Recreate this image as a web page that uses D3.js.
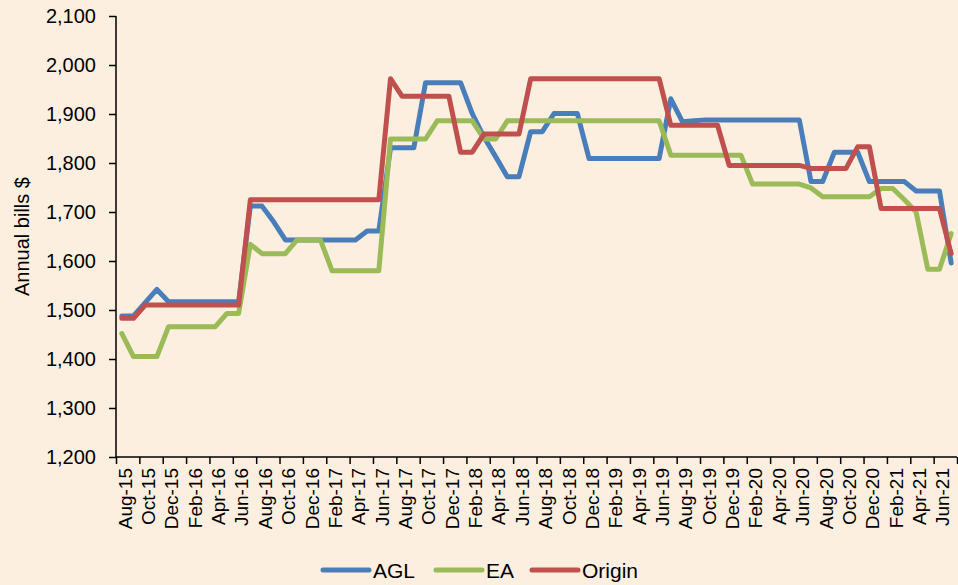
<!DOCTYPE html>
<html>
<head>
<meta charset="utf-8">
<script src="https://d3js.org/d3.v7.min.js"></script>
<style>
  html, body { margin: 0; padding: 0; background: #fcefdf; }
  svg { display: block; font-family: "Liberation Sans", Arial, sans-serif; }
</style>
</head>
<body>
<div id="chart"></div>
<script>
// monthly categories, Aug-15 .. Jul-21
const months = [
  "Aug-15","Sep-15","Oct-15","Nov-15","Dec-15","Jan-16","Feb-16","Mar-16","Apr-16","May-16","Jun-16","Jul-16",
  "Aug-16","Sep-16","Oct-16","Nov-16","Dec-16","Jan-17","Feb-17","Mar-17","Apr-17","May-17","Jun-17","Jul-17",
  "Aug-17","Sep-17","Oct-17","Nov-17","Dec-17","Jan-18","Feb-18","Mar-18","Apr-18","May-18","Jun-18","Jul-18",
  "Aug-18","Sep-18","Oct-18","Nov-18","Dec-18","Jan-19","Feb-19","Mar-19","Apr-19","May-19","Jun-19","Jul-19",
  "Aug-19","Sep-19","Oct-19","Nov-19","Dec-19","Jan-20","Feb-20","Mar-20","Apr-20","May-20","Jun-20","Jul-20",
  "Aug-20","Sep-20","Oct-20","Nov-20","Dec-20","Jan-21","Feb-21","Mar-21","Apr-21","May-21","Jun-21","Jul-21"
];

// annual bills $
const agl = [
  1488,1488,1515,1542,1517,1517,1517,1517,1517,1517,1517,1712,
  1712,1680,1643,1643,1643,1643,1643,1643,1643,1661,1661,1831,
  1831,1831,1964,1964,1964,1964,1901,1853,1813,1772,1772,1864,
  1864,1901,1901,1901,1809,1809,1809,1809,1809,1809,1809,1931,
  1884,1886,1888,1888,1888,1888,1888,1888,1888,1888,1888,1762,
  1762,1822,1822,1822,1762,1762,1762,1762,1743,1743,1743,1596
];
const ea = [
  1452,1405,1405,1405,1466,1466,1466,1466,1466,1493,1493,1634,
  1615,1615,1615,1643,1643,1643,1580,1580,1580,1580,1580,1849,
  1849,1849,1849,1886,1886,1886,1886,1849,1849,1886,1886,1886,
  1886,1886,1886,1886,1886,1886,1886,1886,1886,1886,1886,1816,
  1816,1816,1816,1816,1816,1816,1757,1757,1757,1757,1757,1749,
  1731,1731,1731,1731,1731,1748,1748,1725,1700,1583,1583,1656
];
const origin = [
  1483,1483,1510,1510,1510,1510,1510,1510,1510,1510,1510,1725,
  1725,1725,1725,1725,1725,1725,1725,1725,1725,1725,1725,1972,
  1936,1936,1936,1936,1936,1822,1822,1859,1859,1859,1859,1972,
  1972,1972,1972,1972,1972,1972,1972,1972,1972,1972,1972,1877,
  1877,1877,1877,1877,1795,1795,1795,1795,1795,1795,1795,1789,
  1789,1789,1789,1833,1833,1707,1707,1707,1707,1707,1707,1615
];

const yTicks = [1200,1300,1400,1500,1600,1700,1800,1900,2000,2100];
const labelMonths = months.filter((m, i) => i % 2 === 0);

const series = [
  {name: "AGL", values: agl, color: "#4a7ebb"},
  {name: "EA", values: ea, color: "#9bbb59"},
  {name: "Origin", values: origin, color: "#c0504d"}
];

const width = 958, height = 585;
const margin = {top: 16, right: 1, bottom: 128, left: 116};

const svg = d3.select("#chart").append("svg")
  .attr("width", width)
  .attr("height", height);

svg.append("rect").attr("width", width).attr("height", height).attr("fill", "#fcefdf");

// scales
const x = d3.scaleBand()
  .domain(months)
  .range([margin.left, width - margin.right]);
const xEdge = d3.scaleLinear()
  .domain([0, months.length])
  .range([margin.left, width - margin.right]);
const y = d3.scaleLinear()
  .domain([1200, 2100])
  .range([height - margin.bottom, margin.top]);

// lines
const line = d3.line()
  .x((d, i) => x(months[i]) + x.bandwidth() / 2)
  .y(d => y(d));

svg.append("g")
  .selectAll("path")
  .data(series)
  .join("path")
    .attr("fill", "none")
    .attr("stroke", d => d.color)
    .attr("stroke-width", 5)
    .attr("stroke-linejoin", "round")
    .attr("stroke-linecap", "round")
    .attr("d", d => line(d.values));

// y axis
svg.append("g")
  .attr("transform", `translate(${margin.left},0)`)
  .call(d3.axisLeft(y).tickValues(yTicks).tickSize(7).tickPadding(13).tickFormat(d3.format(",")))
  .call(g => g.selectAll("path, line").attr("stroke", "#000").attr("stroke-width", 1.5))
  .call(g => g.select(".domain").attr("d", `M0,${y(1200)}V${y(2100)}`))
  .call(g => g.selectAll("text").attr("font-size", 20).attr("fill", "#000"));

// x axis tick marks (between categories, every 2 months)
svg.append("g")
  .attr("transform", `translate(0,${y(1200)})`)
  .call(d3.axisBottom(xEdge).tickValues(d3.range(0, months.length + 1, 2)).tickSize(7).tickFormat(""))
  .call(g => g.selectAll("path, line").attr("stroke", "#000").attr("stroke-width", 1.5))
  .call(g => g.select(".domain").attr("d", `M${margin.left},0H${width - margin.right}`));

// x axis labels
svg.append("g")
  .attr("transform", `translate(0,${y(1200)})`)
  .call(d3.axisBottom(x).tickValues(labelMonths).tickSize(0))
  .call(g => g.select(".domain").remove())
  .call(g => g.selectAll("text")
    .attr("font-size", 19)
    .attr("fill", "#000")
    .attr("text-anchor", "end")
    .attr("transform", "translate(3,11) rotate(-90)")
    .attr("x", 0)
    .attr("y", 0)
    .attr("dy", "0.36em"));

// y axis title
svg.append("text")
  .attr("transform", `translate(29,${(y(1200) + y(2100)) / 2}) rotate(-90)`)
  .attr("text-anchor", "middle")
  .attr("font-size", 20)
  .attr("fill", "#000")
  .text("Annual bills $");

// legend
const legendX = [323, 436, 532];
const legend = svg.append("g")
  .selectAll("g")
  .data(series)
  .join("g")
    .attr("transform", (d, i) => `translate(${legendX[i]},570)`);
legend.append("line")
  .attr("x1", 0).attr("x2", 46)
  .attr("stroke", d => d.color)
  .attr("stroke-width", 5)
  .attr("stroke-linecap", "round");
legend.append("text")
  .attr("x", 50)
  .attr("y", 8)
  .attr("font-size", 21)
  .attr("fill", "#000")
  .text(d => d.name);
</script>
</body>
</html>
